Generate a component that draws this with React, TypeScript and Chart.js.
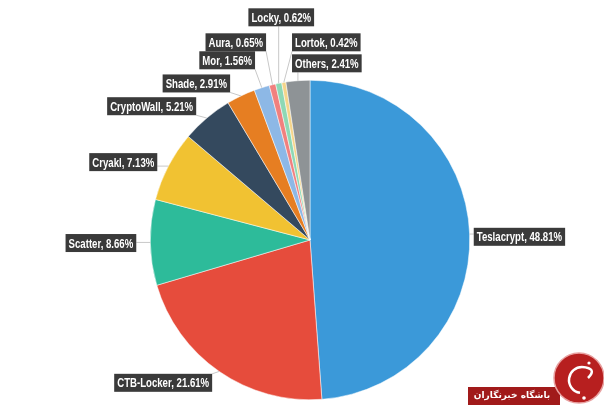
import React, { useEffect, useRef } from "react";
import { Chart, registerables } from "chart.js";

Chart.register(...registerables);

const categories = ["Teslacrypt", "CTB-Locker", "Scatter", "Cryakl", "CryptoWall", "Shade", "Mor", "Aura", "Locky", "Lortok", "Others"];
const shares = [48.81, 21.61, 8.66, 7.13, 5.21, 2.91, 1.56, 0.65, 0.62, 0.42, 2.41];
const valueLabels = ["48.81%", "21.61%", "8.66%", "7.13%", "5.21%", "2.91%", "1.56%", "0.65%", "0.62%", "0.42%", "2.41%"];
const colors = ["#3b99d9", "#e64c3c", "#2dbb9a", "#f1c232", "#34495e", "#e67e22", "#8db8e6", "#f1807e", "#8ed8b5", "#f5d58a", "#8e9396"];

// label placement (layout): offset from pie centre in units of radius, and text alignment
const labelLayout: [number, number, "left" | "right" | "center"][] = [
  [1.025, -0.02, "left"],
  [-0.6125, 0.894, "right"],
  [-1.0875, 0.019, "right"],
  [-0.956, -0.4875, "right"],
  [-0.7125, -0.8375, "right"],
  [-0.5, -0.98, "right"],
  [-0.344, -1.125, "right"],
  [-0.275, -1.2375, "right"],
  [-0.18, -1.394, "center"],
  [-0.1125, -1.2375, "left"],
  [-0.1125, -1.106, "left"],
];

const FONT = "bold 13px 'Liberation Sans', Arial, sans-serif";
const SQUEEZE = 0.74;

const labelPlugin = {
  id: "boxLabels",
  afterDatasetsDraw(chart: any) {
    const ctx = chart.ctx;
    const meta = chart.getDatasetMeta(0);
    ctx.save();
    ctx.font = FONT;
    meta.data.forEach((arc: any, i: number) => {
      const { x, y, outerRadius, startAngle, endAngle } = arc.getProps(["x", "y", "outerRadius", "startAngle", "endAngle"], true);
      const mid = (startAngle + endAngle) / 2;
      const ex = x + Math.cos(mid) * outerRadius;
      const ey = y + Math.sin(mid) * outerRadius;
      const [lx, ly, align] = labelLayout[i];
      const text = categories[i] + ", " + valueLabels[i];
      const tw = ctx.measureText(text).width * SQUEEZE;
      const pad = 3;
      const bw = tw + pad * 2;
      const bh = 18;
      const ax = x + lx * outerRadius;
      const ay = y + ly * outerRadius;
      let bx = ax;
      if (align === "right") bx = ax - bw;
      else if (align === "center") bx = ax - bw / 2;
      const by = ay - bh / 2;
      const cx = Math.min(Math.max(ex, bx), bx + bw);
      const cy = Math.min(Math.max(ey, by), by + bh);
      ctx.strokeStyle = "#c8c8c8";
      ctx.lineWidth = 1;
      ctx.beginPath();
      ctx.moveTo(ex, ey);
      ctx.lineTo(cx, cy);
      ctx.stroke();
      ctx.fillStyle = "#3a3a3a";
      ctx.fillRect(bx, by, bw, bh);
      ctx.fillStyle = "#ffffff";
      ctx.textBaseline = "middle";
      ctx.textAlign = "left";
      ctx.save();
      ctx.translate(bx + pad, ay + 1);
      ctx.scale(SQUEEZE, 1);
      ctx.fillText(text, 0, 0);
      ctx.restore();
    });
    ctx.restore();
  },
};

const logoPlugin = {
  id: "logo",
  afterDraw(chart: any) {
    const ctx = chart.ctx;
    ctx.save();
    ctx.fillStyle = "#a11a1a";
    ctx.fillRect(468, 387, 92, 18);
    ctx.beginPath();
    ctx.arc(579, 378, 25, 0, Math.PI * 2);
    ctx.fillStyle = "#b71f1f";
    ctx.fill();
    ctx.lineWidth = 1.5;
    ctx.strokeStyle = "#e8a0a0";
    ctx.stroke();
    ctx.strokeStyle = "#ffffff";
    ctx.lineWidth = 2.5;
    ctx.beginPath();
    ctx.arc(582, 380, 13, Math.PI * 0.55, Math.PI * 1.5);
    ctx.stroke();
    ctx.beginPath();
    ctx.moveTo(582, 367);
    ctx.quadraticCurveTo(598, 368, 588, 378);
    ctx.stroke();
    ctx.beginPath();
    ctx.arc(584, 398, 1.8, 0, Math.PI * 2);
    ctx.fillStyle = "#ffffff";
    ctx.fill();
    ctx.beginPath();
    ctx.arc(589, 363, 1.6, 0, Math.PI * 2);
    ctx.fill();
    ctx.font = "bold 9px 'DejaVu Sans', sans-serif";
    ctx.textAlign = "center";
    ctx.textBaseline = "middle";
    ctx.direction = "rtl";
    ctx.fillText("باشگاه خبرنگاران", 512, 396);
    ctx.restore();
  },
};

export default function App() {
  const ref = useRef<HTMLCanvasElement>(null);
  useEffect(() => {
    if (!ref.current) return;
    const chart = new Chart(ref.current, {
      type: "pie",
      data: {
        labels: categories,
        datasets: [
          {
            data: shares,
            backgroundColor: colors,
            borderColor: "#ffffff",
            borderWidth: 0.5,
          },
        ],
      },
      options: {
        responsive: false,
        animation: false,
        layout: { padding: { top: 80, bottom: 7, left: 150, right: 134 } },
        plugins: { legend: { display: false }, tooltip: { enabled: false } },
      },
      plugins: [labelPlugin, logoPlugin],
    });
    return () => chart.destroy();
  }, []);
  return (
    <div style={{ position: "absolute", left: 0, top: 0, width: 604, height: 407, background: "#ffffff" }}>
      <canvas ref={ref} width={604} height={407} />
    </div>
  );
}
